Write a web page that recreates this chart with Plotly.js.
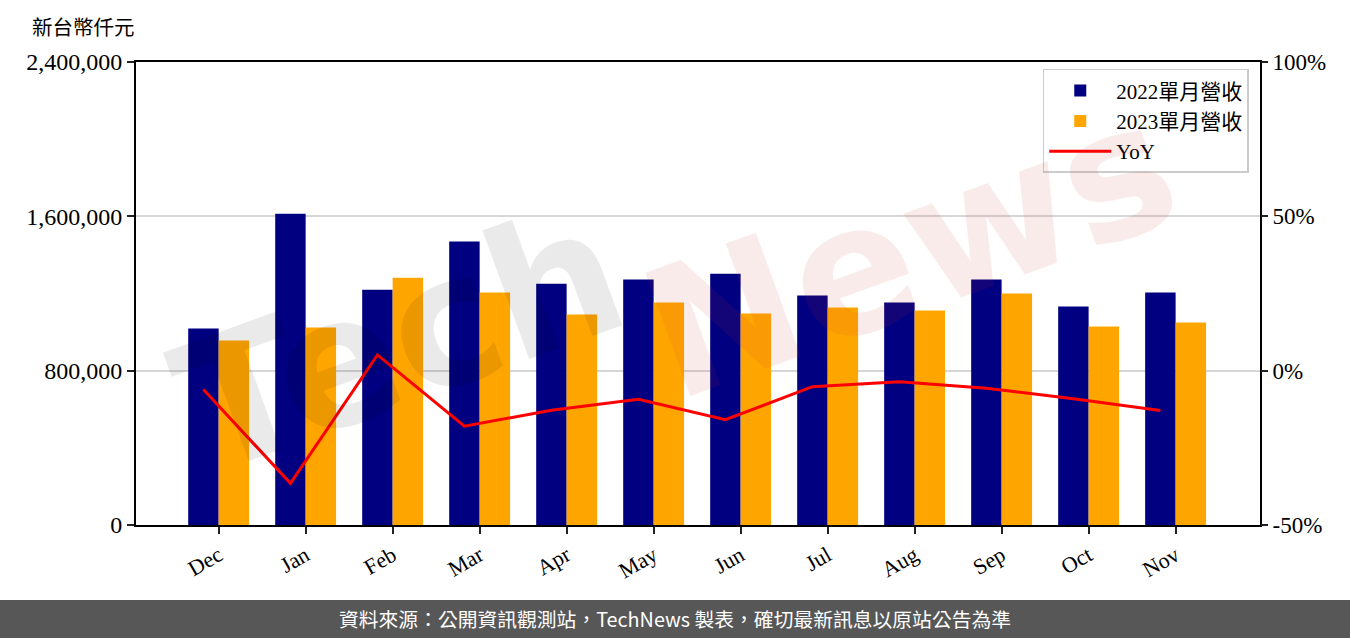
<!DOCTYPE html>
<html>
<head>
<meta charset="utf-8">
<script src="https://cdn.plot.ly/plotly-3.0.1.min.js"></script>
<style>html,body{margin:0;padding:0;background:#fff;}#chart{width:1350px;height:638px;}</style>
</head>
<body>
<div id="chart"></div>
<script>
const months = ["Dec","Jan","Feb","Mar","Apr","May","Jun","Jul","Aug","Sep","Oct","Nov"];
const revenue2022 = [1019000,1613000,1220000,1469000,1251000,1272000,1303000,1189000,1153000,1272000,1132000,1205000];
const revenue2023 = [957000,1024000,1282000,1205000,1091000,1153000,1096000,1127000,1112000,1200000,1029000,1050000];
const yoy = [-6.1,-36.5,5.1,-18.0,-12.8,-9.3,-15.9,-5.2,-3.6,-5.7,-9.1,-12.9];
const leftTicks = [0,800000,1600000,2400000];
const leftTickText = ["0","800,000","1,600,000","2,400,000"];
const rightTicks = [-50,0,50,100];
const rightTickText = ["-50%","0%","50%","100%"];

const serif = "Liberation Serif, 'Noto Sans CJK TC', serif";
const xr = [-0.95, 11.97];

const traces = [
  {type:"bar", name:"2022單月營收", x:months, y:revenue2022, marker:{color:"#000080"}, xaxis:"x", yaxis:"y"},
  {type:"bar", name:"2023單月營收", x:months, y:revenue2023, marker:{color:"#FFA500"}, xaxis:"x", yaxis:"y"},
  {type:"scatter", mode:"lines", name:"YoY", x:months, y:yoy, line:{color:"#FF0000", width:3}, xaxis:"x2", yaxis:"y2"}
];

const layout = {
  width:1350, height:638,
  margin:{l:136, r:90, t:62, b:113},
  paper_bgcolor:"#fff", plot_bgcolor:"rgba(0,0,0,0)",
  barmode:"group", bargap:0.3, bargroupgap:0,
  font:{family:serif, color:"#000", size:20},
  showlegend:true,
  legend:{x:0.99, y:0.985, xanchor:"right", yanchor:"top", bgcolor:"rgba(255,255,255,0.85)", bordercolor:"#cccccc", borderwidth:1.5, font:{family:serif, size:21}, tracegroupgap:0, itemwidth:62},
  xaxis:{type:"category", range:xr, categoryorder:"array", categoryarray:months, tickangle:-30, ticks:"outside", ticklen:7, tickwidth:2, tickcolor:"#222", showline:true, linecolor:"#000", linewidth:2, mirror:true, showgrid:false, zeroline:false, tickfont:{family:serif, size:22}},
  xaxis2:{type:"category", range:[xr[0]+0.175, xr[1]+0.175], categoryorder:"array", categoryarray:months, overlaying:"x", visible:false, showgrid:false, zeroline:false},
  yaxis:{range:[0,2400000], tickvals:leftTicks, ticktext:leftTickText, ticks:"outside", ticklen:7, tickwidth:2, tickcolor:"#222", showline:true, linecolor:"#000", linewidth:2, mirror:true, showgrid:true, gridcolor:"#d6d6d6", gridwidth:2, zeroline:false, tickfont:{family:serif, size:24}, layer:"below traces"},
  yaxis2:{range:[-50,100], tickvals:rightTicks, ticktext:rightTickText, overlaying:"y", side:"right", ticks:"outside", ticklen:7, tickwidth:2, tickcolor:"#222", showline:false, showgrid:false, zeroline:false, tickfont:{family:serif, size:23}},
  shapes:[
    {type:"rect", xref:"paper", yref:"paper", x0:-0.13, x1:1.09, y0:-0.2441, y1:-0.162, fillcolor:"#575757", line:{width:0}, layer:"below"}
  ],
  annotations:[
    {text:"新台幣仟元", xref:"paper", yref:"paper", x:-0.094, y:1.073, xanchor:"left", yanchor:"middle", showarrow:false, font:{family:serif, size:20.5, color:"#000"}},
    {text:"資料來源：公開資訊觀測站，TechNews 製表，確切最新訊息以原站公告為準", xref:"paper", yref:"paper", x:0.4795, y:-0.203, xanchor:"center", yanchor:"middle", showarrow:false, font:{family:"'Noto Sans CJK TC', 'Noto Sans', sans-serif", size:19.8, color:"#ffffff"}},
    {text:"Tech", xref:"paper", yref:"paper", x:0.235, y:0.40, xanchor:"center", yanchor:"middle", showarrow:false, textangle:-20, opacity:0.08, font:{family:"'DejaVu Sans', sans-serif", size:180, color:"#000000", weight:700}},
    {text:"News", xref:"paper", yref:"paper", x:0.689, y:0.594, xanchor:"center", yanchor:"middle", showarrow:false, textangle:-20, opacity:0.09, font:{family:"'DejaVu Sans', sans-serif", size:180, color:"#cc3333", weight:700}}
  ]
};

Plotly.newPlot("chart", traces, layout, {displayModeBar:false, staticPlot:true});
</script>
</body>
</html>
